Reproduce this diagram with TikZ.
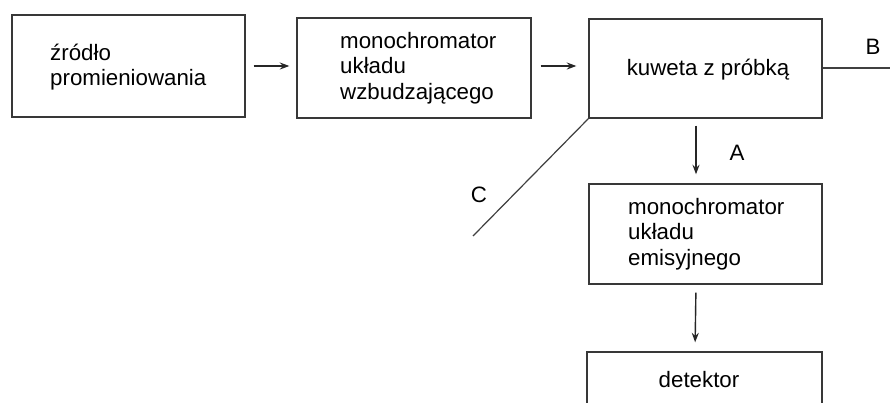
\documentclass[tikz,border=0pt]{standalone}
\usepackage{fontspec}
\setmainfont{Liberation Sans}
\usetikzlibrary{arrows.meta}
\tikzset{
  box/.style={draw=black!78, line width=1.4pt, rectangle, inner sep=0pt},
  lbl/.style={inner sep=0pt, anchor=west, align=left, font=\fontsize{22.3}{25.5}\selectfont},
  clbl/.style={inner sep=0pt, font=\fontsize{22.3}{25.5}\selectfont},
  arr/.style={draw=black!85, line width=1.4pt, -{Stealth[length=9.5pt,width=7pt]}},
  ln/.style={draw=black!75, line width=1.2pt}
}
\begin{document}
\begin{tikzpicture}[x=1pt,y=-1pt]
\useasboundingbox (0,0) rectangle (890,402);
\clip (0,0) rectangle (890,402);
\fill[white] (0,0) rectangle (890,402);
% boxes
\node[box, minimum width=233pt, minimum height=102pt] (src) at (128.5,66) {};
\node[box, minimum width=234pt, minimum height=100pt] (monex) at (414,68) {};
\node[box, minimum width=233pt, minimum height=99pt] (kuw) at (705.5,68.5) {};
\node[box, minimum width=233pt, minimum height=100pt] (monem) at (705.5,234) {};
\node[box, minimum width=235pt, minimum height=100pt] (det) at (704.5,402) {};
% texts
\node[lbl] (t1) at (50,67) {źródło\\promieniowania};
\node[lbl] (t2) at (340,68) {monochromator\\układu\\wzbudzającego};
\node[clbl] (t3) at (708,70) {kuweta z próbką};
\node[lbl] (t4) at (628,234) {monochromator\\układu\\emisyjnego};
\node[clbl] (t5) at (699,380) {detektor};
% arrows
\draw[arr, shorten <=8pt, shorten >=7pt] (src.east) -- (src.east -| monex.west);
\draw[arr, shorten <=9pt, shorten >=12pt] ([yshift=2pt]monex.east) -- ([yshift=2pt]monex.east -| kuw.west);
\draw[arr, shorten <=7pt, shorten >=9pt] ([xshift=-9.5pt]kuw.south) -- ([xshift=-9.5pt]monem.north);
\draw[arr, shorten <=8pt, shorten >=9pt] ([xshift=-9.5pt]monem.south) -- ([xshift=-9.5pt]det.north);
% side lines
\coordinate (bend) at (890,68);
\coordinate (cend) at (473,236);
\draw[ln] (kuw.east |- bend) -- (bend);
\draw[ln] (kuw.south west) -- (cend);
% labels
\node[clbl] (lA) at (737,153) {A};
\node[clbl] (lB) at (873,47) {B};
\node[clbl] (lC) at (479,195) {C};
\end{tikzpicture}
\end{document}
